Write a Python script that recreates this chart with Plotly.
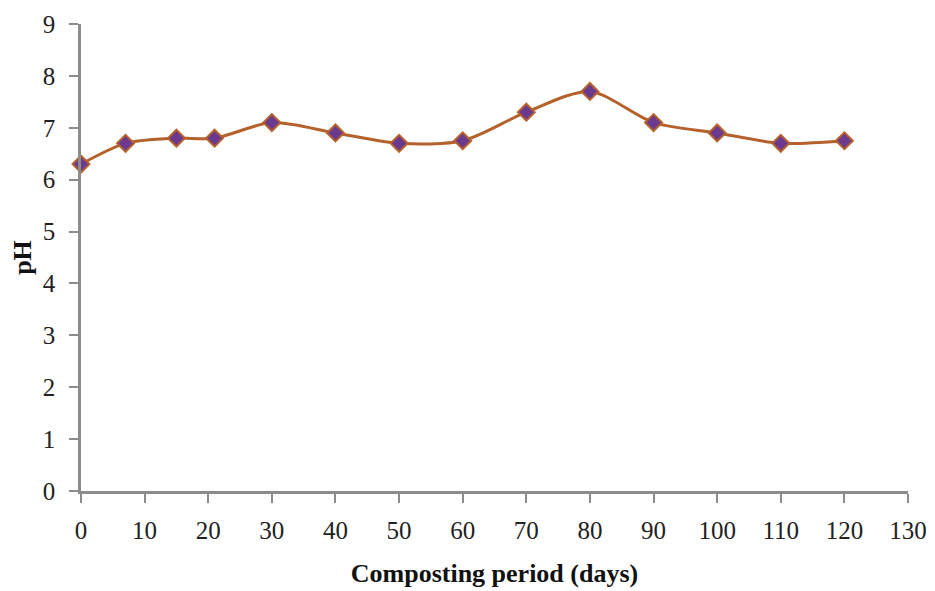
import plotly.graph_objects as go

days = [0, 7, 15, 21, 30, 40, 50, 60, 70, 80, 90, 100, 110, 120]
ph = [6.3, 6.7, 6.8, 6.8, 7.1, 6.9, 6.7, 6.75, 7.3, 7.7, 7.1, 6.9, 6.7, 6.75]
x_ticks = list(range(0, 131, 10))
y_ticks = list(range(0, 10))

SERIF = "Liberation Serif, Times New Roman, serif"

fig = go.Figure()
fig.add_trace(go.Scatter(
    x=days, y=ph, mode="lines+markers", cliponaxis=False,
    line=dict(color="#B5612C", width=3, shape="spline", smoothing=0.8),
    marker=dict(symbol="diamond", size=13, color="#6B3A8E",
                line=dict(color="#B5612C", width=2)),
    showlegend=False,
))

axis_common = dict(
    showgrid=False, zeroline=False, showline=True, automargin=False,
    linecolor="#8C8C8C", linewidth=2.5,
    ticks="outside", ticklen=9, tickwidth=2, tickcolor="#8C8C8C",
    ticklabeloverflow="allow",
    tickfont=dict(family=SERIF, size=25, color="#222222"),
)

fig.update_layout(
    width=927, height=583,
    margin=dict(l=73, r=27, t=16, b=100),
    plot_bgcolor="white", paper_bgcolor="white",
    xaxis=dict(range=[0, 130], tickvals=x_ticks, ticklabelstandoff=6, **axis_common,
               title=dict(text="<b>Composting period (days)</b>", standoff=22,
                          font=dict(family=SERIF, size=26, color="#111111"))),
    yaxis=dict(range=[0, 9], tickvals=y_ticks, ticklabelstandoff=9, **axis_common,
               title=dict(text="<b>pH</b>", standoff=10,
                          font=dict(family=SERIF, size=26, color="#111111"))),
)

fig.write_html("out.html")
